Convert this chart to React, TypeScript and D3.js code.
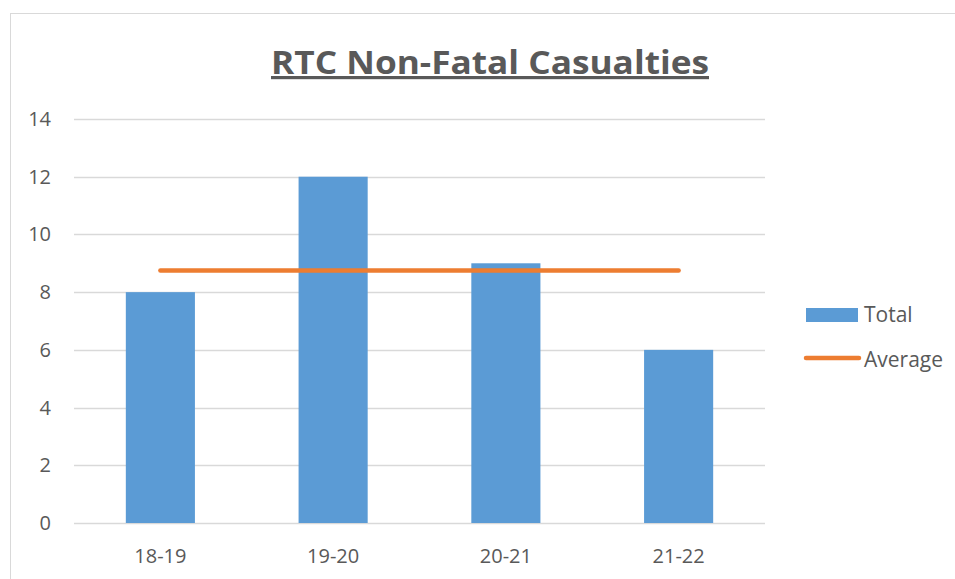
import React, { useEffect, useRef } from "react";
import * as d3 from "d3";

const categories = ["18-19", "19-20", "20-21", "21-22"];
const totals = [8, 12, 9, 6];
const yTicks = [0, 2, 4, 6, 8, 10, 12, 14];
const seriesNames = ["Total", "Average"];
const title = "RTC Non-Fatal Casualties";

const App = () => {
  const ref = useRef<SVGSVGElement>(null);

  useEffect(() => {
    const width = 955;
    const height = 579;
    const margin = { left: 74, right: 190, top: 119, bottom: 56 };
    const font = "'Open Sans', Calibri, sans-serif";
    const gray = "#595959";
    const blue = "#5b9bd5";
    const orange = "#ed7d31";

    const svg = d3.select(ref.current)
      .attr("width", width)
      .attr("height", height);
    svg.selectAll("*").remove();

    // chart border
    svg.append("rect")
      .attr("x", 10.5).attr("y", 13.5)
      .attr("width", width + 20).attr("height", height + 20)
      .attr("fill", "white")
      .attr("stroke", "#d9d9d9");

    const x = d3.scaleBand()
      .domain(categories)
      .range([margin.left, width - margin.right])
      .paddingInner(0.6)
      .paddingOuter(0.3);

    const y = d3.scaleLinear()
      .domain([0, 14])
      .range([height - margin.bottom, margin.top]);

    // gridlines
    svg.append("g")
      .selectAll("line")
      .data(yTicks)
      .join("line")
        .attr("x1", margin.left)
        .attr("x2", width - margin.right)
        .attr("y1", d => Math.round(y(d)) + 0.5)
        .attr("y2", d => Math.round(y(d)) + 0.5)
        .attr("stroke", "#d9d9d9")
        .attr("stroke-width", 1.3);

    svg.append("g")
      .selectAll("text")
      .data(yTicks)
      .join("text")
        .attr("x", 51)
        .attr("y", d => y(d))
        .attr("dy", "0.35em")
        .attr("text-anchor", "end")
        .attr("fill", gray)
        .style("font", `20px ${font}`)
        .text(d => d);

    // bars
    svg.append("g")
      .selectAll("rect")
      .data(totals)
      .join("rect")
        .attr("x", (d, i) => x(categories[i])!)
        .attr("width", x.bandwidth())
        .attr("y", d => y(d))
        .attr("height", d => y(0) - y(d))
        .attr("fill", blue);

    svg.append("g")
      .selectAll("text")
      .data(categories)
      .join("text")
        .attr("x", d => x(d)! + x.bandwidth() / 2)
        .attr("y", height - margin.bottom + 40)
        .attr("text-anchor", "middle")
        .attr("fill", gray)
        .style("font", `20px ${font}`)
        .text(d => d);

    // average line
    const avg = d3.mean(totals)!;
    const line = d3.line<string>()
      .x(d => x(d)! + x.bandwidth() / 2)
      .y(() => y(avg));
    svg.append("path")
      .datum(categories)
      .attr("d", line)
      .attr("fill", "none")
      .attr("stroke", orange)
      .attr("stroke-width", 4.5)
      .attr("stroke-linecap", "round");

    // title
    svg.append("text")
      .attr("x", 490)
      .attr("y", 74)
      .attr("text-anchor", "middle")
      .attr("fill", gray)
      .attr("text-decoration", "underline")
      .attr("textLength", 438)
      .attr("lengthAdjust", "spacingAndGlyphs")
      .style("font", `bold 32px ${font}`)
      .text(title);

    // legend
    const lg = svg.append("g");
    lg.append("rect")
      .attr("x", 806).attr("y", 308)
      .attr("width", 52).attr("height", 14)
      .attr("fill", blue);
    lg.append("line")
      .attr("x1", 806).attr("x2", 859)
      .attr("y1", 358).attr("y2", 358)
      .attr("stroke", orange)
      .attr("stroke-width", 4.5)
      .attr("stroke-linecap", "round");
    lg.selectAll("text")
      .data(seriesNames)
      .join("text")
        .attr("x", 864)
        .attr("y", (d, i) => 315 + i * 45)
        .attr("dy", "0.35em")
        .attr("fill", gray)
        .style("font", `21px ${font}`)
        .text(d => d);
  }, []);

  return (
    <div style={{ position: "absolute", left: 0, top: 0 }}>
      <svg ref={ref}></svg>
    </div>
  );
};

export default App;
